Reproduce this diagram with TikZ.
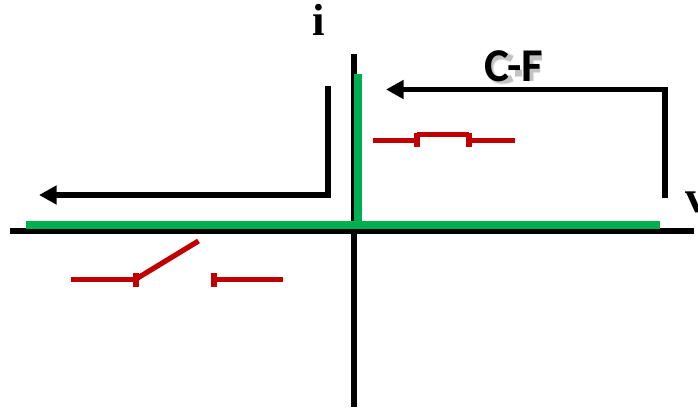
\documentclass[tikz,border=0pt]{standalone}
\usepackage{fontspec}
\setmainfont{Liberation Serif}
\newfontfamily\carl{Carlito}
\usetikzlibrary{arrows.meta}
\definecolor{plotgreen}{RGB}{0,176,80}
\definecolor{switchred}{RGB}{192,0,0}
\tikzset{
  axisline/.style={draw=black,line width=6pt},
  charline/.style={draw=plotgreen,line width=8.5pt},
  sweep/.style={draw=black,line width=5.6pt,miter limit=10,-{Triangle[length=17.5pt,width=18pt]}},
  contact/.style={draw=switchred,line width=5.2pt},
  axislabel/.style={font=\fontsize{45}{45}\selectfont\bfseries,inner sep=0pt,anchor=base},
  modelabel/.style={font=\fontsize{47}{47}\selectfont\carl\bfseries,inner sep=0pt,anchor=base},
  softshade/.style={draw=black,opacity=#1,line join=round}
}
\newcommand{\cfshape}{
  (510,57) .. controls (504,53) and (488,51) .. (488,66) .. controls (488,81) and (504,80) .. (510,76)
  (513,71) -- (520,71)
  (528,79) -- (528,55) -- (540,55)
  (528,67) -- (538,67)
}
\begin{document}
\begin{tikzpicture}[x=1pt,y=-1pt]
\useasboundingbox (0,0) rectangle (698,407);
% axes
\draw[axisline] (10,230.5) -- (694,230.5);
\draw[axisline] (353.6,54) -- (353.6,407);
% characteristic
\draw[charline] (25.5,225.2) -- (660,225.2);
\draw[charline,line width=8pt] (358,74) -- (358,225.2);
% sweep arrows
\draw[sweep] (665,198) -- (665,89.5) -- (386,89.5);
\draw[sweep] (328,86) -- (328,195) -- (39,195);
% closed switch
\draw[contact] (373,140.8) -- (417,140.8);
\draw[contact,line width=6pt] (417,133) -- (417,147);
\draw[contact] (417,134.5) -- (469,134.5);
\draw[contact,line width=6pt] (469,133) -- (469,147);
\draw[contact] (469,140.8) -- (515,140.8);
% open switch
\draw[contact] (71,279.7) -- (136,279.7);
\draw[contact,line width=6pt] (136,273) -- (136,286.5);
\draw[contact] (136,279) -- (198.5,241);
\draw[contact,line width=6pt] (214,273) -- (214,286.5);
\draw[contact] (214,279.7) -- (282.5,279.7);
% soft shadow of the C-F label, drawn as shapes
\begin{scope}[shift={(2,2)}]
\draw[softshade=.1,line width=8pt] \cfshape;
\draw[softshade=.15,line width=6pt] \cfshape;
\end{scope}
% labels
\node[axislabel] (ilabel) at (319,35) {i};
\node[axislabel] (vlabel) at (697,212) {v};
\node[modelabel,text=black] (cflabel) at (514,81.5) {C-F};
\end{tikzpicture}
\end{document}
